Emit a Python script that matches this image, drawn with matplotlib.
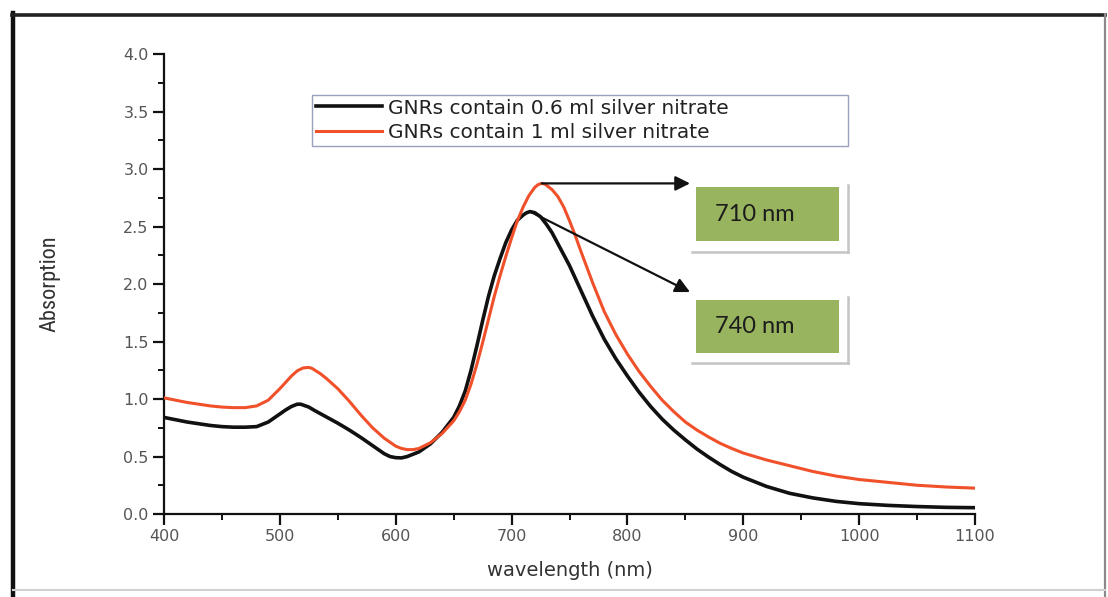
import numpy as np
import matplotlib.pyplot as plt
from matplotlib.lines import Line2D
from matplotlib.patches import Rectangle
from matplotlib.ticker import MultipleLocator

# UV-vis absorption spectra of gold nanorods
wl_black = [400, 410, 420, 430, 440, 450, 460, 470, 480, 490, 500, 505, 510, 515, 518, 525,
            530, 540, 550, 560, 570, 580, 590, 595, 600, 605, 610, 620, 630, 640, 650, 655, 660,
            665, 670, 675, 680, 685, 690, 695, 700, 705, 710, 713, 716, 720, 725, 730, 735, 740,
            750, 760, 770, 780, 790, 800, 810, 820, 830, 840, 850, 860, 870, 880, 890, 900,
            920, 940, 960, 980, 1000, 1025, 1050, 1075, 1100]
abs_black = [0.84, 0.82, 0.80, 0.785, 0.77, 0.76, 0.755, 0.755, 0.76, 0.80, 0.87, 0.905, 0.935, 0.955, 0.955, 0.93,
             0.90, 0.845, 0.79, 0.73, 0.665, 0.595, 0.525, 0.50, 0.49, 0.488, 0.50, 0.54, 0.61, 0.71, 0.84, 0.94, 1.07,
             1.25, 1.46, 1.68, 1.89, 2.07, 2.22, 2.36, 2.47, 2.555, 2.60, 2.62, 2.63, 2.62, 2.585, 2.52, 2.445, 2.35,
             2.16, 1.94, 1.72, 1.52, 1.35, 1.20, 1.06, 0.935, 0.825, 0.73, 0.645, 0.565, 0.495, 0.43, 0.37, 0.32,
             0.24, 0.18, 0.14, 0.11, 0.09, 0.075, 0.065, 0.058, 0.055]

wl_red = [400, 410, 420, 430, 440, 450, 460, 470, 480, 490, 500, 510, 515, 520, 525, 528,
          535, 540, 550, 560, 570, 580, 590, 600, 605, 610, 615, 620, 630, 640, 650, 655, 660,
          665, 670, 675, 680, 685, 690, 695, 700, 705, 710, 715, 720, 723, 726, 729, 735, 740,
          745, 750, 755, 760, 770, 780, 790, 800, 810, 820, 830, 840, 850, 860, 870, 880, 890, 900,
          920, 940, 960, 980, 1000, 1025, 1050, 1075, 1100]
abs_red = [1.01, 0.99, 0.97, 0.955, 0.94, 0.93, 0.925, 0.925, 0.94, 0.99, 1.09, 1.20, 1.245, 1.27, 1.275, 1.265,
           1.22, 1.18, 1.09, 0.98, 0.86, 0.75, 0.66, 0.59, 0.57, 0.56, 0.56, 0.57, 0.62, 0.70, 0.81, 0.89, 0.99,
           1.13, 1.30, 1.49, 1.69, 1.89, 2.07, 2.24, 2.40, 2.55, 2.67, 2.77, 2.84, 2.865, 2.875, 2.868, 2.82, 2.76,
           2.67, 2.55, 2.42, 2.28, 2.01, 1.76, 1.56, 1.39, 1.24, 1.11, 0.99, 0.89, 0.80, 0.73, 0.67, 0.615, 0.57, 0.53,
           0.47, 0.42, 0.37, 0.33, 0.30, 0.275, 0.25, 0.235, 0.225]

labels = ['GNRs contain 0.6 ml silver nitrate', 'GNRs contain 1 ml silver nitrate']
peak_labels = ['710 nm', '740 nm']

fig = plt.figure(figsize=(11.08, 5.97), dpi=100)
ax = fig.add_axes([0.148, 0.139, 0.732, 0.7705])

ax.plot(wl_black, abs_black, color='#111111', lw=2.6, label=labels[0], zorder=3,
        solid_joinstyle='round')
ax.plot(wl_red, abs_red, color='#f0502a', lw=2.2, label=labels[1], zorder=3,
        solid_joinstyle='round')

ax.set_xlim(400, 1100)
ax.set_ylim(0, 4.0)
ax.xaxis.set_major_locator(MultipleLocator(100))
ax.xaxis.set_minor_locator(MultipleLocator(50))
ax.yaxis.set_major_locator(MultipleLocator(0.5))
ax.yaxis.set_minor_locator(MultipleLocator(0.25))
ax.yaxis.set_major_formatter(plt.FormatStrFormatter('%.1f'))

for s in ['top', 'right']:
    ax.spines[s].set_visible(False)
for s in ['left', 'bottom']:
    ax.spines[s].set_linewidth(1.6)
    ax.spines[s].set_color('#111111')
ax.tick_params(which='major', direction='out', length=8, width=1.6, color='#111111',
               labelsize=11.5, labelcolor='#555555', pad=3)
ax.tick_params(which='minor', direction='out', length=4.5, width=1.4, color='#111111')

ax.set_xlabel('wavelength (nm)', fontsize=14, color='#333333', labelpad=12)
ax.set_ylabel('Absorption', fontsize=16, color='#333333',
              family=['Liberation Sans Narrow', 'DejaVu Sans Condensed', 'Roboto Condensed', 'DejaVu Sans'])
ax.yaxis.set_label_coords(-0.128, 0.5)

leg = ax.legend(loc='upper left', bbox_to_anchor=(0.182, 0.912, 0.661, 0.0), mode='expand',
                fontsize=14.5, frameon=True, fancybox=False, handlelength=3.3,
                handletextpad=0.3, borderpad=0.2, labelspacing=0.25, borderaxespad=0)
leg.get_frame().set_edgecolor('#7d8aa8')
leg.get_frame().set_linewidth(1.0)
for t in leg.get_texts():
    t.set_color('#222222')

# arrows from each peak to its label box
i_red = int(np.argmax(abs_red))
i_black = int(np.argmax(abs_black))
arrow = dict(arrowstyle='-|>', color='#111111', lw=1.6, mutation_scale=22, shrinkA=0, shrinkB=0)
ax.annotate('', xy=(854, abs_red[i_red]), xytext=(wl_red[i_red], abs_red[i_red]),
            arrowprops=arrow, annotation_clip=False)
ax.annotate('', xy=(854, 1.93), xytext=(wl_black[i_black], abs_black[i_black]),
            arrowprops=arrow, annotation_clip=False)

# green label boxes with a faint drop frame
boxes = [(2.374, 2.843, 2.278, 2.86), (1.40, 1.86, 1.313, 1.89)]
for (y0, y1, sb, st), txt in zip(boxes, peak_labels):
    ax.add_line(Line2D([990.4, 990.4], [sb, st], color='#c4c4c4', lw=1.8, clip_on=False))
    ax.add_line(Line2D([855.7, 990.4], [sb, sb], color='#c4c4c4', lw=1.8, clip_on=False))
    ax.add_patch(Rectangle((859, y0), 982.6 - 859, y1 - y0, facecolor='#98b45e',
                           edgecolor='none', clip_on=False, zorder=4))
    ax.text(875.6, (y0 + y1) / 2, txt, fontsize=17, color='#1c1c1c', ha='left', va='center',
            family=['Lato', 'DejaVu Sans'], zorder=5)

# outer frame around the figure
fig.add_artist(Line2D([13 / 1108, 13 / 1108], [0, 1 - 13 / 597], color='#111111', lw=3.2))
fig.add_artist(Line2D([12 / 1108, 1105 / 1108], [1 - 15 / 597, 1 - 15 / 597], color='#222222', lw=2.6))
fig.add_artist(Line2D([1105 / 1108, 1105 / 1108], [0, 1 - 14 / 597], color='#8a8a8a', lw=1.6))
fig.add_artist(Line2D([13 / 1108, 1105 / 1108], [1 - 590 / 597, 1 - 590 / 597], color='#d0d0d0', lw=1.5))

fig.savefig('out.png', dpi=100)
